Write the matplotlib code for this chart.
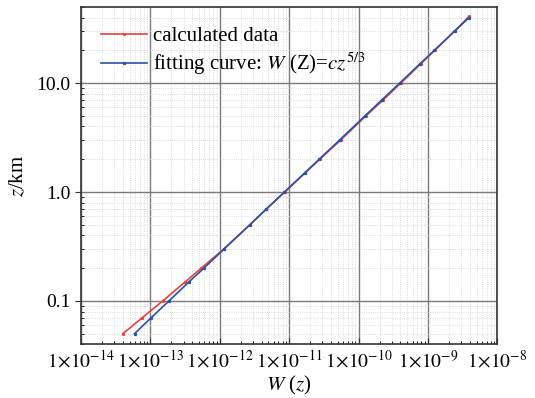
import math
import matplotlib
matplotlib.use('Agg')
import matplotlib.pyplot as plt
from matplotlib.ticker import LogLocator, FuncFormatter, NullFormatter

plt.rcParams['font.family'] = ['Liberation Serif', 'DejaVu Serif']
plt.rcParams['mathtext.fontset'] = 'stix'

# 高度 z (km) 与 W(z)
z_calc = [0.05, 0.07, 0.1, 0.15, 0.2, 0.3, 0.5, 0.7, 1.0, 1.5, 2.0, 3.0, 5.0, 7.0, 10.0, 15.0, 20.0, 30.0, 41.0]
w_calc = [4.0e-14, 7.6e-14, 1.5e-13, 3.18e-13, 5.4e-13, 1.14e-12, 2.7e-12, 4.7e-12, 8.6e-12, 1.7e-11,
          2.75e-11, 5.5e-11, 1.27e-10, 2.25e-10, 4.05e-10, 7.8e-10, 1.25e-9, 2.4e-9, 3.9e-9]

z_fit = [0.05, 0.07, 0.1, 0.15, 0.2, 0.3, 0.5, 0.7, 1.0, 1.5, 2.0, 3.0, 5.0, 7.0, 10.0, 15.0, 20.0, 30.0, 40.0]
w_fit = [5.9e-14, 1.02e-13, 1.85e-13, 3.6e-13, 5.9e-13, 1.15e-12, 2.7e-12, 4.7e-12, 8.5e-12, 1.67e-11,
         2.7e-11, 5.3e-11, 1.23e-10, 2.15e-10, 3.9e-10, 7.6e-10, 1.23e-9, 2.41e-9, 3.9e-9]

x_ticks = [1e-14, 1e-13, 1e-12, 1e-11, 1e-10, 1e-9, 1e-8]
y_ticks = [0.1, 1.0, 10.0]
y_tick_labels = ['0.1', '1.0', '10.0']

fig = plt.figure(figsize=(5.35, 3.98), dpi=100)
ax = fig.add_axes([0.1514, 0.1349, 0.7785, 0.8475])

ax.plot(w_calc, z_calc, color='#e8413c', lw=1.2, marker='o', ms=1.3, label='calculated data')
ax.plot(w_fit, z_fit, color='#2a52a8', lw=1.2, marker='s', ms=1.3,
        label=r'fitting curve: $\mathit{W}$ (Z)=$\mathit{cz}^{5/3}$')

ax.set_xscale('log')
ax.set_yscale('log')
ax.set_xlim(1e-14, 1e-8)
ax.set_ylim(0.04, 50)

ax.set_xticks(x_ticks)
ax.xaxis.set_minor_locator(LogLocator(base=10, subs=range(2, 10), numticks=20))
ax.xaxis.set_major_formatter(FuncFormatter(
    lambda v, p: r'$1\!\times\!10^{%d}$' % round(math.log10(v))))
ax.xaxis.set_minor_formatter(NullFormatter())
ax.set_yticks(y_ticks)
ax.set_yticklabels(y_tick_labels)
ax.yaxis.set_minor_locator(LogLocator(base=10, subs=range(2, 10), numticks=20))
ax.yaxis.set_minor_formatter(NullFormatter())

ax.tick_params(axis='both', which='major', labelsize=14, color='#333333')
ax.tick_params(axis='x', which='major', direction='in', length=4)
ax.tick_params(axis='x', which='minor', direction='in', length=2.5)
ax.tick_params(axis='y', which='major', direction='out', length=4)
ax.tick_params(axis='y', which='minor', direction='in', length=2.5)

ax.grid(which='major', color='#7a7a7a', lw=1.0, ls='-')
ax.grid(which='minor', color='#d0d0d0', lw=0.6, ls=':')
ax.set_axisbelow(True)
for s in ax.spines.values():
    s.set_color('#333333')
    s.set_linewidth(1.2)

ax.set_xlabel(r'$\mathit{W}$ ($\mathit{z}$)', fontsize=15, labelpad=2)
ax.set_ylabel(r'$\mathit{z}$/km', fontsize=15, labelpad=6)

ax.legend(loc='upper left', frameon=False, fontsize=15, handlelength=2.2,
          handletextpad=0.3, borderaxespad=0.55, labelspacing=0.2)

fig.savefig('out.png', dpi=100)
